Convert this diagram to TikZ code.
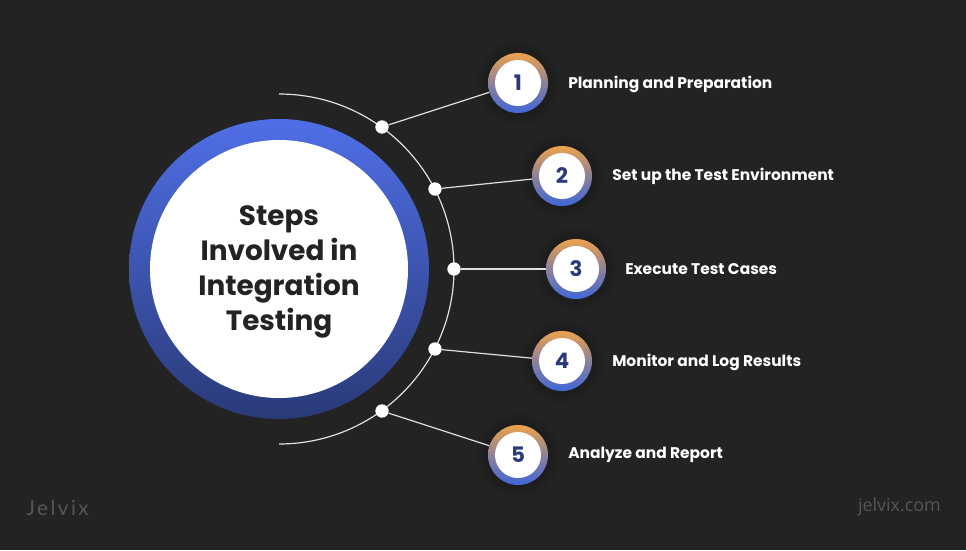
\documentclass[tikz,border=0pt]{standalone}
\usepackage{fontspec}
\setmainfont{Poppins}
\newfontfamily\logofont[LetterSpace=12]{Lato}
\newfontfamily\webfont{Open Sans}
\newcommand{\numtext}[1]{\raisebox{-0.9pt}{#1}}
\definecolor{bgc}{HTML}{232323}
\definecolor{navy}{HTML}{2B3A7C}
\definecolor{ringtop}{HTML}{4F6FE6}
\definecolor{ringbot}{HTML}{2A3A78}
\definecolor{stepo}{HTML}{EDA24C}
\definecolor{stepb}{HTML}{3F66D8}
\definecolor{wmark}{HTML}{555555}
\tikzset{
  x=0.75pt,y=-0.75pt,
  halo/.style={circle,fill=black,opacity=0.018,minimum size=#1*0.75pt,inner sep=0pt,draw=none},
  ringnode/.style={circle,minimum size=45pt,inner sep=0pt,top color=stepo,bottom color=stepb,middle color=stepo!45!stepb},
  facenode/.style={circle,fill=white,minimum size=34.5pt,inner sep=0pt,text=navy,font=\fontsize{16}{16}\selectfont\bfseries},
  dotnode/.style={circle,fill=white,minimum size=10pt,inner sep=0pt},
  linkline/.style={draw=white!88!black,line width=0.9pt},
  steplabel/.style={anchor=west,text=white,inner sep=0pt,font=\fontsize{11.6}{13}\selectfont\bfseries},
}
\begin{document}
\begin{tikzpicture}
\useasboundingbox (0,0) rectangle (966,550);
\fill[bgc] (0,0) rectangle (966,550);
% main circle
\node[circle,minimum size=225pt,inner sep=0pt,top color=ringtop,bottom color=ringbot] (mainring) at (279,269) {};
\node[circle,fill=white,minimum size=193.5pt,inner sep=0pt] (mainface) at (279,269) {};
\node[align=center,text=bgc,inner sep=0pt,
  font=\fontsize{20.9}{26.25}\selectfont\bfseries] (maintext) at (279,271.5) {Steps\\Involved in\\Integration\\Testing};
% arc
\coordinate (arctop) at (279,94);
\coordinate (arcbot) at (279,444);
\draw[linkline] (arctop) arc[start angle=-90,end angle=90,radius=175];
% dots
\node[dotnode] (d1) at (382,127) {};
\node[dotnode] (d2) at (435,189) {};
\node[dotnode] (d3) at (454,269) {};
\node[dotnode] (d4) at (435,349) {};
\node[dotnode] (d5) at (382,411) {};
% halos
\foreach \p in {(518,83),(562,176),(576,269),(562,361),(518,455)}{
  \foreach \s in {66,70,74,78,82,86}{\node[halo=\s] at \p {};}
}
% step circles
\node[ringnode] (r1) at (518,83) {};
\node[ringnode] (r2) at (562,176) {};
\node[ringnode] (r3) at (576,269) {};
\node[ringnode] (r4) at (562,361) {};
\node[ringnode] (r5) at (518,455) {};
\node[facenode] (f1) at (r1) {\numtext{1}};
\node[facenode] (f2) at (r2) {\numtext{2}};
\node[facenode] (f3) at (r3) {\numtext{3}};
\node[facenode] (f4) at (r4) {\numtext{4}};
\node[facenode] (f5) at (r5) {\numtext{5}};
% connectors
\draw[linkline] (d1) -- (r1);
\draw[linkline] (d2) -- (r2);
\draw[linkline] (d3) -- (r3);
\draw[linkline] (d4) -- (r4);
\draw[linkline] (d5) -- (r5);
% labels
\node[steplabel] (l1) at (568,84.5) {Planning and Preparation};
\node[steplabel] (l2) at (612,176.5) {Set up the Test Environment};
\node[steplabel] (l3) at (625,269.5) {Execute Test Cases};
\node[steplabel] (l4) at (612,362.5) {Monitor and Log Results};
\node[steplabel] (l5) at (568,455) {Analyze and Report};
% watermarks
\node[anchor=west,inner sep=0pt,text=wmark,font=\fontsize{15.5}{15}\selectfont\logofont] (logo) at (26,508) {Jelvix};
\node[anchor=east,inner sep=0pt,text=wmark,font=\fontsize{13.4}{13}\selectfont\webfont] (site) at (941,507) {jelvix.com};
\end{tikzpicture}
\end{document}
